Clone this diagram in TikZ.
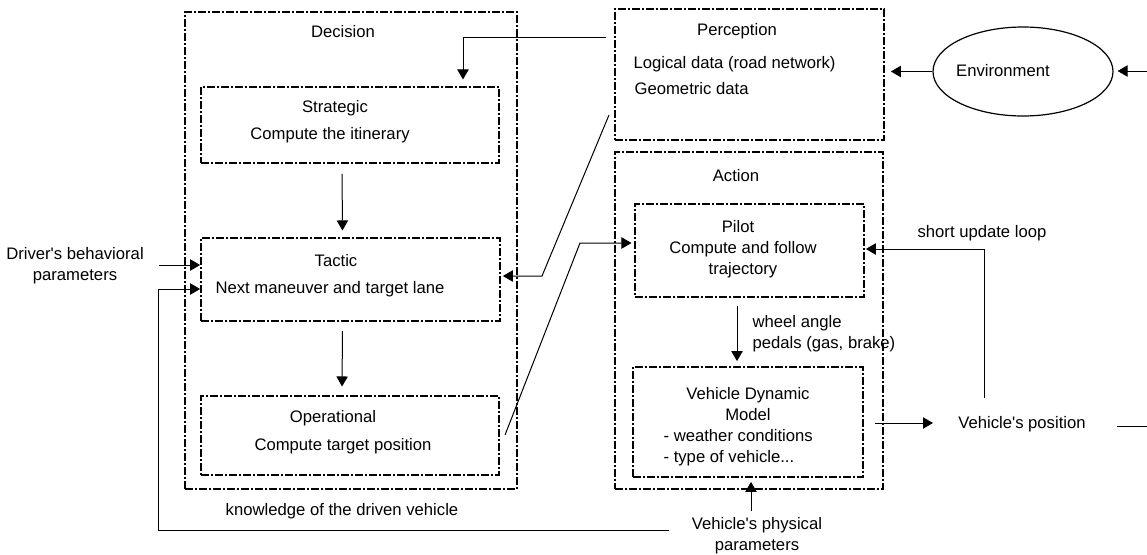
\documentclass[tikz,border=0pt]{standalone}
\usepackage{fontspec}
\setmainfont{Liberation Sans}
\usetikzlibrary{arrows.meta,fit,shapes.geometric}
\newcommand{\TipLength}{7.5pt}
\newcommand{\TipWidth}{8.5pt}
\newcommand{\BlockLine}{1.3pt}

\begin{document}
\begin{tikzpicture}[x=0.75pt,y=-0.75pt,
  txt/.style={font=\fontsize{12.5}{15.75}\selectfont, inner sep=1pt, align=center, yshift=-1.2pt},
  block/.style={draw, line width=\BlockLine, dash pattern=on 6pt off 1.5pt on 1.5pt off 1.5pt, inner sep=0pt},
  arr/.style={-{Triangle[length=\TipLength,width=\TipWidth]}, line width=0.75pt},
  plain/.style={line width=0.75pt}
]
\useasboundingbox (0,0) rectangle (1147,554);

% ----- Decision -----
\node[block, fit={(185,12) (517,489)}] (decision) {};
\node[txt] (decisionT) at (343,30) {Decision};

\node[block, fit={(201,87) (499,163)}] (strategic) {};
\node[txt] (strategicT) at (335,107) {Strategic};
\node[txt] (strategicB) at (330,134) {Compute the itinerary};

\node[block, fit={(201,238) (500,321)}] (tactic) {};
\node[txt] (tacticT) at (336,259) {Tactic};
\node[txt] (tacticB) at (330,288) {Next maneuver and target lane};

\node[block, fit={(201,396) (499,475)}] (operational) {};
\node[txt] (operationalT) at (333,417) {Operational};
\node[txt] (operationalB) at (343,445) {Compute target position};

\node[txt] (knowT) at (342,510) {knowledge of the driven vehicle};

% ----- Perception -----
\node[block, fit={(615,9) (884,140)}] (perception) {};
\node[txt] (perceptionT) at (737,30) {Perception};
\node[txt, anchor=west] (logicalT) at (632,63) {Logical data (road network)};
\node[txt, anchor=west] (geomT) at (633,87) {Geometric data};

% ----- Action -----
\node[block, fit={(615,152) (883,489)}] (action) {};
\node[txt] (actionT) at (736,174) {Action};

\node[block, fit={(635,204) (864,297)}] (pilot) {};
\node[txt] (pilotT) at (738,225) {Pilot};
\node[txt] (pilotB) at (743,258) {Compute and follow\\trajectory};

\node[block, fit={(633,367) (863,477)}] (vdm) {};
\node[txt] (vdmT) at (748,402) {Vehicle Dynamic\\Model};
\node[txt, anchor=west, align=left] (vdmB) at (662,446) {- weather conditions\\- type of vehicle...};

% ----- Environment -----
\node[draw, ellipse, line width=0.9pt, minimum width=135pt, minimum height=66.75pt, inner sep=0pt] (env) at (1023,71.5) {};
\node[txt] (envT) at (1003,69) {Environment};

% ----- Outside texts -----
\node[txt] (driver) at (75,264) {Driver\textquotesingle s behavioral\\parameters};
\node[txt] (pos) at (1022,423) {Vehicle\textquotesingle s position};
\node[txt] (phys) at (757,534) {Vehicle\textquotesingle s physical\\parameters};
\node[txt] (loopT) at (982,232) {short update loop};
\node[txt, anchor=west, align=left] (cmdT) at (751,332) {wheel angle\\pedals (gas, brake)};

% ----- Connectors -----
\coordinate (toStrat) at (463,37);
\draw[arr, shorten <=6pt, shorten >=5pt] (perception.west |- toStrat) -| (strategic.north -| toStrat);

\draw[arr, shorten <=7.5pt, shorten >=5pt] ([xshift=-6pt]strategic.south) -- ([xshift=-6pt]tactic.north);
\draw[arr, shorten <=7pt, shorten >=6.5pt] ([xshift=-6pt]tactic.south) -- ([xshift=-6pt]operational.north);

% perception to tactic
\coordinate (percOut) at (609,115);
\coordinate (percBend) at (542,276);
\draw[arr, shorten >=1.5pt] (percOut) -- (percBend) -- (tactic.east |- percBend);

% operational to pilot
\coordinate (opOut) at (505,435);
\coordinate (opBend) at (580,243);
\draw[arr, shorten >=2pt] (opOut) -- (opBend) -- (pilot.west |- opBend);

% driver parameters
\coordinate (drvIn) at (159,265);
\draw[arr] (drvIn) -- (tactic.west |- drvIn);

% knowledge loop
\coordinate (knA) at (669,530);
\coordinate (knC) at (158,289);
\draw[arr] (knA) -| (knC) -- (tactic.west |- knC);

% environment
\draw[arr, shorten >=4.5pt] (env.west) -- (perception.east |- env.west);
\coordinate (envIn) at (1147,71);
\draw[arr, shorten >=3pt] (envIn) -- (env.east |- envIn);

% pilot to vehicle model
\coordinate (cmd) at (737,330);
\draw[arr, shorten <=6pt, shorten >=3.75pt] (pilot.south -| cmd) -- (vdm.north -| cmd);

% vehicle position
\coordinate (posIn) at (933,423);
\draw[arr, shorten <=8pt] (vdm.east |- posIn) -- (posIn);
\coordinate (posOut) at (1147,426);
\coordinate (posOutA) at (1117,426);
\draw[plain] (posOutA) -- (posOut);

% short update loop
\coordinate (loop) at (984,249);
\coordinate (loopA) at (984,398);
\draw[arr, shorten >=0.75pt] (loopA) -- (loop) -- (pilot.east |- loop);

% physical parameters
\coordinate (physIn) at (751,511);
\draw[arr, shorten >=3pt] (physIn) -- (vdm.south -| physIn);

\end{tikzpicture}
\end{document}
